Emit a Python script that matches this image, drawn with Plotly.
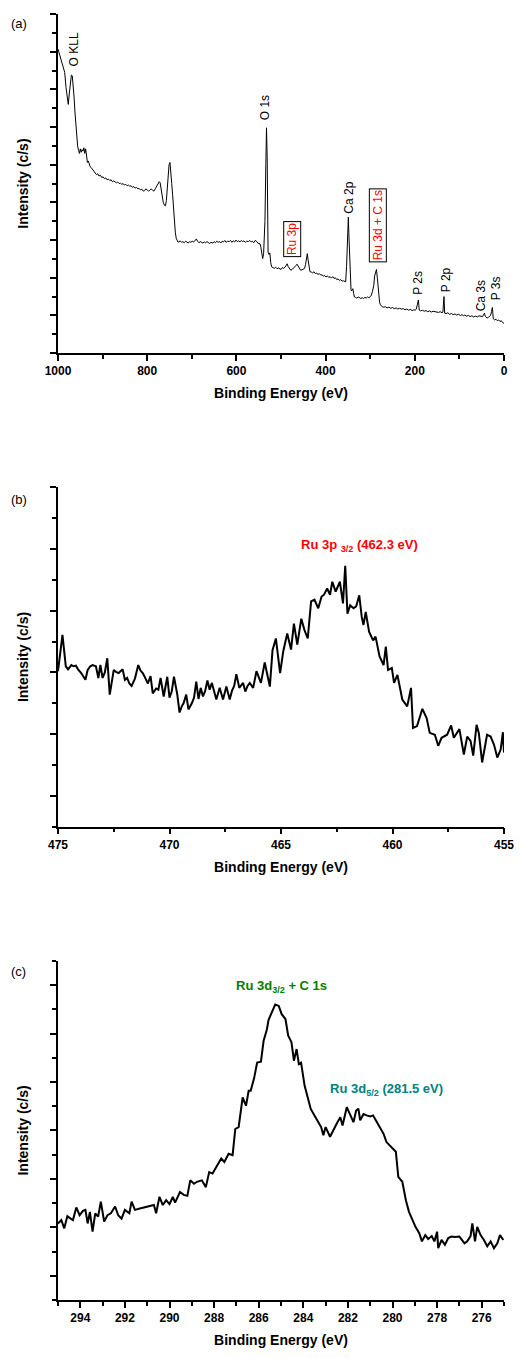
import plotly.graph_objects as go

# ---------------- Panel (a): survey spectrum ----------------
a_energy = [1000, 997, 994, 991, 988, 985, 982, 979, 977, 975, 972, 970, 968, 966, 964, 962, 960, 958, 956, 954,
            952, 950, 948, 946, 944, 942, 940, 938, 936, 934, 932, 930, 928, 926, 923, 920, 917, 914, 911, 908,
            905, 902, 899, 896, 893, 890, 887, 884, 881, 878, 875, 872, 869, 866, 863, 860, 857, 854, 851, 848,
            845, 842, 839, 836, 833, 830, 827, 824, 821, 818, 815, 812, 809, 806, 803, 800, 797, 794, 791, 788,
            785, 782, 779, 776, 773, 771, 769, 767, 764, 761, 759, 757, 755, 753, 751, 749, 747, 745, 743, 741,
            739, 737, 735, 733, 731, 729, 726, 723, 720, 717, 714, 711, 708, 705, 702, 699, 696, 693, 690, 687,
            684, 681, 678, 675, 672, 669, 666, 663, 660, 657, 653, 650, 647, 644, 641, 638, 635, 632, 629, 626,
            623, 620, 616, 613, 610, 607, 604, 601, 598, 595, 592, 589, 586, 583, 580, 577, 573, 570, 567, 564,
            561, 558, 555, 552, 549, 547, 545, 543, 541, 539, 538, 536, 534, 532.5, 531, 530, 529, 527, 525, 523,
            521, 518, 515, 512, 509, 506, 503, 500, 497, 494, 491, 488, 486, 484, 481, 478, 475, 472, 469, 466,
            464, 462, 460, 458, 456, 453, 450, 447, 445, 443, 441, 439, 437, 435, 432, 429, 426, 423, 420, 417,
            414, 411, 408, 405, 402, 399, 396, 393, 390, 387, 384, 381, 378, 375, 372, 369, 366, 363, 360, 357,
            355, 353, 352, 351, 349, 348, 346.5, 345, 343, 341, 339, 337, 335.5, 333, 330, 327, 324, 321, 318, 315,
            312, 309, 306, 303, 300, 298, 295, 292, 290, 288, 286, 284, 282, 281, 279, 277, 275, 273, 270, 266,
            262, 258, 254, 250, 246, 242, 238, 234, 230, 226, 222, 218, 214, 210, 206, 202, 199, 197, 194, 192,
            190, 187, 183, 179, 175, 171, 167, 163, 159, 155, 151, 147, 143, 139, 137, 135.5, 134.5, 133, 130, 126,
            122, 118, 114, 110, 106, 102, 98, 94, 91, 88, 84, 80, 76, 72, 68, 64, 60, 56, 52, 48,
            46, 44, 42, 40, 38, 35, 32, 30, 28, 26, 25, 24, 21, 18, 15, 12, 9, 6, 3, 0]
a_intensity = [8.07, 7.95, 7.85, 7.70, 7.55, 7.45, 7.05, 6.70, 6.60, 6.85, 7.20, 7.38, 7.36, 7.15, 6.80, 6.40, 6.00, 5.80, 5.50, 5.38,
               5.30, 5.42, 5.33, 5.40, 5.36, 5.45, 5.30, 5.42, 5.20, 5.06, 5.10, 5.00, 4.95, 4.93, 4.88, 4.82, 4.80, 4.74, 4.76, 4.70,
               4.72, 4.66, 4.68, 4.63, 4.65, 4.60, 4.62, 4.58, 4.60, 4.55, 4.57, 4.55, 4.52, 4.54, 4.50, 4.51, 4.48, 4.50, 4.46, 4.48,
               4.44, 4.46, 4.43, 4.44, 4.40, 4.42, 4.38, 4.40, 4.36, 4.37, 4.33, 4.35, 4.30, 4.31, 4.36, 4.33, 4.30, 4.32, 4.36, 4.32,
               4.30, 4.36, 4.42, 4.50, 4.55, 4.52, 4.35, 4.15, 4.00, 3.92, 3.91, 4.05, 4.35, 4.75, 5.00, 5.06, 4.85, 4.50, 4.20, 3.75,
               3.40, 3.21, 3.05, 2.98, 2.95, 2.95, 2.98, 2.94, 2.96, 2.93, 2.97, 2.95, 2.92, 2.96, 2.94, 2.97, 2.95, 2.98, 3.03, 2.97,
               2.93, 2.96, 2.94, 2.92, 2.95, 2.93, 2.96, 2.93, 2.91, 2.94, 2.92, 2.96, 2.93, 2.97, 2.94, 2.96, 2.92, 2.97, 2.95, 2.99,
               2.94, 2.97, 2.96, 2.99, 2.94, 2.98, 2.95, 3.00, 2.96, 2.98, 2.95, 2.99, 2.96, 2.98, 2.94, 2.97, 2.96, 2.99, 2.95, 2.97,
               2.93, 2.99, 2.97, 2.92, 2.90, 2.90, 2.80, 2.60, 2.51, 2.65, 2.86, 3.50, 5.00, 5.98, 5.20, 3.60, 2.68, 2.62, 2.66, 2.40,
               2.29, 2.27, 2.25, 2.28, 2.24, 2.26, 2.24, 2.22, 2.27, 2.25, 2.28, 2.33, 2.37, 2.30, 2.24, 2.20, 2.22, 2.25, 2.28, 2.33,
               2.36, 2.32, 2.25, 2.21, 2.20, 2.21, 2.23, 2.25, 2.35, 2.55, 2.64, 2.45, 2.22, 2.16, 2.15, 2.13, 2.16, 2.11, 2.12, 2.09,
               2.11, 2.07, 2.08, 2.04, 2.06, 2.02, 2.05, 2.01, 2.03, 1.99, 2.03, 1.98, 2.00, 1.95, 1.97, 1.93, 1.95, 1.91, 1.92, 1.89,
               1.89, 2.30, 2.73, 3.30, 3.61, 3.20, 2.51, 2.00, 1.67, 1.66, 1.71, 1.58, 1.49, 1.48, 1.46, 1.49, 1.47, 1.45, 1.47, 1.45,
               1.48, 1.46, 1.49, 1.47, 1.50, 1.52, 1.63, 1.80, 2.05, 2.18, 2.22, 2.00, 1.62, 1.45, 1.35, 1.28, 1.25, 1.23, 1.22, 1.23,
               1.20, 1.22, 1.19, 1.21, 1.18, 1.20, 1.17, 1.19, 1.17, 1.18, 1.15, 1.17, 1.14, 1.16, 1.13, 1.15, 1.14, 1.16, 1.30, 1.41,
               1.14, 1.12, 1.14, 1.11, 1.13, 1.10, 1.12, 1.09, 1.11, 1.10, 1.10, 1.08, 1.10, 1.07, 1.09, 1.30, 1.50, 1.06, 1.05, 1.07,
               1.03, 1.05, 1.02, 1.04, 1.01, 1.03, 1.00, 1.02, 0.99, 1.01, 0.98, 1.00, 0.97, 0.99, 0.96, 0.98, 0.96, 0.99, 0.97, 0.97,
               1.02, 1.06, 0.98, 0.94, 0.93, 0.95, 0.97, 1.00, 1.10, 1.21, 1.05, 0.91, 0.88, 0.90, 0.86, 0.88, 0.84, 0.86, 0.81, 0.79]
a_ticks = [1000, 800, 600, 400, 200, 0]

# ---------------- Panel (b): Ru 3p region ----------------
b_energy = [475.0, 474.8, 474.65, 474.55, 474.4, 474.3, 474.2, 474.1, 473.96, 473.77, 473.67, 473.55, 473.45, 473.3, 473.19,
            473.1, 473.0, 472.9, 472.79, 472.68, 472.5, 472.4, 472.28, 472.1, 472.0, 471.9, 471.8, 471.7, 471.55, 471.4,
            471.3, 471.2, 471.1, 470.97, 470.85, 470.75, 470.6, 470.5, 470.4, 470.26, 470.1, 470.0, 469.9, 469.8, 469.65,
            469.55, 469.45, 469.37, 469.25, 469.15, 469.0, 468.9, 468.8, 468.7, 468.6, 468.5, 468.4, 468.3, 468.2, 468.1,
            467.9, 467.75, 467.6, 467.45, 467.3, 467.2, 467.1, 467.0, 466.87, 466.7, 466.6, 466.5, 466.4, 466.25, 466.1,
            465.9, 465.73, 465.6, 465.5, 465.38, 465.23, 465.04, 464.9, 464.72, 464.55, 464.42, 464.27, 464.09, 463.95, 463.8,
            463.65, 463.5, 463.33, 463.18, 463.07, 462.93, 462.8, 462.7, 462.55, 462.36, 462.22, 462.12, 462.02, 461.9, 461.75,
            461.63, 461.49, 461.38, 461.3, 461.2, 461.05, 460.87, 460.76, 460.58, 460.4, 460.3, 460.2, 460.03, 459.93, 459.78,
            459.56, 459.34, 459.17, 459.08, 458.9, 458.66, 458.47, 458.33, 458.1, 457.95, 457.8, 457.55, 457.37, 457.25, 457.0,
            456.8, 456.65, 456.5, 456.38, 456.23, 456.13, 455.98, 455.76, 455.6, 455.45, 455.3, 455.15, 455.05, 455.0]
b_intensity = [2.02, 2.61, 2.10, 2.05, 2.12, 2.10, 2.11, 2.05, 1.99, 1.88, 2.04, 2.10, 2.12, 2.10, 1.91,
               2.12, 1.91, 2.00, 2.23, 1.64, 2.04, 2.01, 1.99, 2.05, 1.88, 1.91, 1.82, 1.78, 1.90, 2.12,
               2.03, 1.99, 1.92, 1.82, 1.94, 1.66, 1.74, 1.72, 1.91, 1.61, 1.93, 1.59, 1.69, 1.93, 1.64,
               1.35, 1.45, 1.50, 1.64, 1.40, 1.50, 1.59, 1.85, 1.57, 1.75, 1.61, 1.70, 1.87, 1.72, 1.83,
               1.56, 1.75, 1.56, 1.77, 1.56, 1.70, 1.78, 1.97, 1.75, 1.83, 1.69, 1.78, 1.83, 1.75, 2.02,
               1.83, 2.16, 1.95, 1.77, 2.36, 2.55, 1.99, 2.34, 2.63, 2.37, 2.79, 2.45, 2.87, 2.69, 2.55,
               3.15, 3.18, 3.04, 3.23, 3.26, 3.36, 3.26, 3.47, 3.31, 3.47, 3.12, 3.73, 2.95, 3.09, 3.04,
               3.07, 3.25, 2.90, 2.77, 2.98, 2.66, 2.52, 2.58, 2.26, 2.12, 2.42, 2.04, 2.07, 1.83, 1.96,
               1.56, 1.45, 1.75, 1.10, 1.13, 1.41, 1.26, 1.02, 0.99, 0.81, 0.94, 0.99, 1.14, 0.94, 1.08,
               0.67, 0.96, 0.89, 0.65, 1.15, 1.02, 0.54, 0.99, 0.96, 0.83, 0.62, 0.75, 1.03, 0.70]
b_ticks = [475, 470, 465, 460, 455]

# ---------------- Panel (c): Ru 3d + C 1s region ----------------
c_energy = [295.0, 294.85, 294.72, 294.58, 294.43, 294.33, 294.18, 294.03, 293.88, 293.77, 293.67, 293.57, 293.45, 293.33,
            293.2, 293.08, 292.93, 292.78, 292.63, 292.44, 292.3, 292.15, 292.0, 291.8, 291.7, 291.55, 291.33, 291.1,
            290.9, 290.7, 290.6, 290.45, 290.3, 290.15, 290.0, 289.85, 289.75, 289.53, 289.36, 289.2, 289.07, 288.9,
            288.77, 288.55, 288.37, 288.22, 288.07, 287.9, 287.68, 287.54, 287.35, 287.17, 287.05, 286.9, 286.72, 286.57,
            286.45, 286.36, 286.21, 286.07, 285.9, 285.78, 285.63, 285.56, 285.4, 285.26, 285.1, 284.97, 284.8, 284.68,
            284.53, 284.42, 284.3, 284.2, 284.1, 283.94, 283.8, 283.67, 283.5, 283.36, 283.2, 283.1, 283.0, 282.8,
            282.6, 282.47, 282.34, 282.24, 282.05, 281.9, 281.75, 281.63, 281.53, 281.45, 281.3, 281.16, 281.0, 280.87,
            280.7, 280.56, 280.4, 280.27, 280.05, 279.85, 279.74, 279.56, 279.4, 279.26, 279.1, 278.97, 278.8, 278.68,
            278.53, 278.4, 278.24, 278.12, 278.0, 277.95, 277.8, 277.65, 277.5, 277.36, 277.2, 277.0, 276.77, 276.65,
            276.5, 276.42, 276.3, 276.2, 276.05, 275.9, 275.75, 275.6, 275.45, 275.3, 275.18, 275.03]
c_intensity = [1.08, 1.15, 0.98, 1.23, 1.18, 1.15, 1.41, 1.25, 1.34, 1.36, 1.08, 1.32, 0.91, 1.29,
               1.22, 1.53, 1.12, 1.25, 1.29, 1.43, 1.25, 1.18, 1.36, 1.29, 1.53, 1.36, 1.39, 1.41,
               1.44, 1.46, 1.29, 1.63, 1.46, 1.56, 1.48, 1.63, 1.51, 1.73, 1.67, 1.65, 1.97, 1.90,
               1.94, 1.97, 1.83, 2.14, 2.11, 2.25, 2.42, 2.35, 2.52, 2.49, 3.03, 3.07, 3.68, 3.51,
               3.82, 3.82, 4.07, 4.40, 4.42, 4.85, 5.09, 5.28, 5.47, 5.60, 5.57, 5.40, 5.30, 4.96,
               4.82, 4.44, 4.68, 4.37, 4.40, 3.92, 3.68, 3.45, 3.31, 3.21, 3.07, 2.90, 3.07, 2.87,
               3.07, 3.17, 3.27, 3.10, 3.48, 3.31, 3.17, 3.41, 3.45, 3.21, 3.34, 3.31, 3.29, 3.31,
               3.17, 3.07, 2.93, 2.76, 2.66, 2.56, 2.04, 1.94, 1.56, 1.32, 1.15, 1.01, 0.88, 0.71,
               0.84, 0.76, 0.82, 0.71, 0.91, 0.57, 0.74, 0.64, 0.78, 0.81, 0.80, 0.81, 0.67, 0.71,
               0.82, 1.08, 0.71, 1.01, 0.84, 0.74, 0.61, 0.71, 0.57, 0.67, 0.84, 0.74]
c_ticks = [294, 292, 290, 288, 286, 284, 282, 280, 278, 276]

# ---------------- Peak labels ----------------
a_labels = ["O KLL", "O 1s", "Ca 2p", "P 2s", "P 2p", "Ca 3s", "P 3s"]
a_label_x = [965, 534, 348, 192.6, 131, 49.7, 18]
a_label_y = [8.05, 6.52, 4.12, 1.87, 1.95, 1.53, 1.72]
a_box_labels = ["Ru 3p", "Ru 3d + C 1s"]
a_box_x = [475, 283.4]
a_box_y = [3.03, 3.38]

FONT = "Arial, Liberation Sans, sans-serif"
BLACK = "black"

fig = go.Figure()
fig.add_trace(go.Scatter(x=a_energy, y=a_intensity, mode="lines", line=dict(color=BLACK, width=1),
                         xaxis="x", yaxis="y", showlegend=False))
fig.add_trace(go.Scatter(x=b_energy, y=b_intensity, mode="lines", line=dict(color=BLACK, width=2),
                         xaxis="x2", yaxis="y2", showlegend=False))
fig.add_trace(go.Scatter(x=c_energy, y=c_intensity, mode="lines", line=dict(color=BLACK, width=2),
                         xaxis="x3", yaxis="y3", showlegend=False))

def xax(rng, mdtick, anchor, ticks):
    return dict(range=rng, autorange=False, tickmode="array", tickvals=ticks,
                ticktext=[str(t) for t in ticks],
                showline=True, linecolor=BLACK, linewidth=1.5, showgrid=False, zeroline=False,
                ticks="outside", ticklen=6, tickwidth=1.5, tickcolor=BLACK,
                minor=dict(ticks="outside", ticklen=4, tickwidth=1.5, tickcolor=BLACK, dtick=mdtick, tick0=0, showgrid=False),
                tickfont=dict(family=FONT, size=12, color=BLACK, weight="bold"),
                title=dict(text="<b>Binding Energy (eV)</b>", font=dict(family=FONT, size=14, color=BLACK), standoff=11),
                anchor=anchor)

def yax(rng, domain, anchor):
    return dict(range=rng, autorange=False, domain=domain, dtick=1, tick0=0,
                showline=True, linecolor=BLACK, linewidth=1.5, showgrid=False, zeroline=False,
                ticks="outside", ticklen=6, tickwidth=1.5, tickcolor=BLACK, showticklabels=False,
                minor=dict(ticks="outside", ticklen=4, tickwidth=1.5, tickcolor=BLACK, dtick=0.5, tick0=0, showgrid=False),
                title=dict(text="<b>Intensity (c/s)</b>", font=dict(family=FONT, size=14, color=BLACK), standoff=18),
                anchor=anchor)

fig.update_layout(
    width=526, height=1358,
    margin=dict(l=58, r=12, t=14, b=51),
    paper_bgcolor="white", plot_bgcolor="white",
    font=dict(family=FONT, color=BLACK),
    xaxis=xax([1000, 0], 100, "y", a_ticks),
    yaxis=yax([0, 9], [0.7363, 1.0], "x"),
    xaxis2=xax([475, 455], 2.5, "y2", b_ticks),
    yaxis2=yax([-0.5, 5], [0.3681, 0.6319], "x2"),
    xaxis3=xax([295, 275], 1, "y3", c_ticks),
    yaxis3=yax([-0.5, 6.5], [0.0, 0.2637], "x3"),
)

ann = []
for t, x, y in zip(a_labels, a_label_x, a_label_y):
    ann.append(dict(text=t, x=x, y=y, xref="x", yref="y", showarrow=False, textangle=-90,
                    font=dict(family=FONT, size=12, color=BLACK), xanchor="center", yanchor="middle"))
for t, x, y in zip(a_box_labels, a_box_x, a_box_y):
    ann.append(dict(text=t, x=x, y=y, xref="x", yref="y", showarrow=False, textangle=-90,
                    font=dict(family=FONT, size=12, color="#ff0000"), xanchor="center", yanchor="middle",
                    bordercolor=BLACK, borderwidth=1, borderpad=1, bgcolor="white"))

ann.append(dict(text="<b>Ru 3p <sub>3/2</sub> (462.3 eV)</b>", x=461.5, y=4.05, xref="x2", yref="y2",
                showarrow=False, font=dict(family=FONT, size=13, color="#ff0000"), xanchor="center", yanchor="middle"))
ann.append(dict(text="<b>Ru 3d<sub>3/2</sub> + C 1s</b>", x=285.0, y=5.97, xref="x3", yref="y3",
                showarrow=False, font=dict(family=FONT, size=13, color="#008000"), xanchor="center", yanchor="middle"))
ann.append(dict(text="<b>Ru 3d<sub>5/2</sub> (281.5 eV)</b>", x=280.26, y=3.85, xref="x3", yref="y3",
                showarrow=False, font=dict(family=FONT, size=13, color="#008080"), xanchor="center", yanchor="middle"))

for t, yp in zip(["(a)", "(b)", "(c)"], [0.993, 0.6226, 0.2552]):
    ann.append(dict(text=t, x=-0.0877, y=yp, xref="paper", yref="paper", showarrow=False,
                    font=dict(family=FONT, size=13, color=BLACK), xanchor="center", yanchor="middle"))

fig.update_layout(annotations=ann)
fig.write_html("out.html",
               config={"displayModeBar": False},
               post_script="document.body.style.margin='0';document.body.style.padding='0';"
                           "document.documentElement.style.overflow='hidden';")
